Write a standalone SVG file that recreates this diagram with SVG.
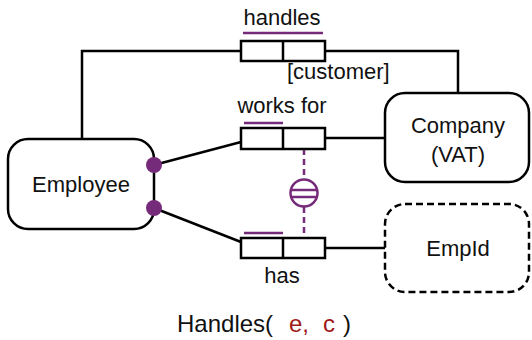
<svg xmlns="http://www.w3.org/2000/svg" width="532" height="340" viewBox="0 0 532 340">
<style>
.ln{fill:none;stroke:#000;stroke-width:2.5}
.box{fill:#fff;stroke:#000;stroke-width:2.5}
.uq{stroke:#762a7a;stroke-width:2.5;fill:none}
.t{font-family:"Liberation Sans",Arial,sans-serif;font-size:22px;fill:#111}
.dot{fill:#762a7a}
</style>
<rect width="532" height="340" fill="#fff"/>
<g id="connectors">
<polyline class="ln" points="82,140 82,51 241,51"/>
<polyline class="ln" points="325,51 458,51 458,93"/>
<line class="ln" x1="154" y1="165" x2="241" y2="142"/>
<line class="ln" x1="154" y1="208" x2="241" y2="242"/>
<line class="ln" x1="325" y1="138" x2="385" y2="138"/>
<line class="ln" x1="325" y1="248" x2="385" y2="248"/>
<line class="uq" x1="304" y1="149" x2="304" y2="179" stroke-dasharray="6,4"/>
<line class="uq" x1="304" y1="207" x2="304" y2="238" stroke-dasharray="6,4"/>
</g>
<g id="employee">
<rect class="box" x="8" y="139" width="146" height="90" rx="20"/>
<text class="t" x="81" y="192" text-anchor="middle">Employee</text>
<circle class="dot" cx="154" cy="165" r="8"/>
<circle class="dot" cx="154" cy="208" r="8"/>
</g>
<g id="company">
<rect class="box" x="385" y="93" width="144" height="89" rx="20"/>
<text class="t" x="458" y="133" text-anchor="middle">Company</text>
<text class="t" x="458" y="162" text-anchor="middle">(VAT)</text>
</g>
<g id="empid">
<rect class="box" x="385" y="204" width="144" height="88" rx="20" stroke-dasharray="7,4"/>
<text class="t" x="458" y="256" text-anchor="middle">EmpId</text>
</g>
<g id="handles">
<rect class="box" x="241" y="41" width="84" height="20"/>
<line class="ln" x1="283" y1="41" x2="283" y2="61"/>
<line class="uq" x1="243" y1="33" x2="323" y2="33"/>
<text class="t" x="282" y="25" text-anchor="middle">handles</text>
<text class="t" x="287" y="79">[customer]</text>
</g>
<g id="worksfor">
<rect class="box" x="241" y="128" width="84" height="21"/>
<line class="ln" x1="283" y1="128" x2="283" y2="149"/>
<line class="uq" x1="244" y1="123" x2="283" y2="123"/>
<text class="t" x="282" y="113" text-anchor="middle">works for</text>
</g>
<g id="has">
<rect class="box" x="241" y="238" width="84" height="20"/>
<line class="ln" x1="283" y1="238" x2="283" y2="258"/>
<line class="uq" x1="244" y1="233" x2="283" y2="233"/>
<text class="t" x="282" y="283" text-anchor="middle">has</text>
</g>
<g id="equality">
<circle cx="304" cy="193" r="13.5" fill="#fff" stroke="#762a7a" stroke-width="2.5"/>
<line class="uq" x1="291" y1="190" x2="317" y2="190"/>
<line class="uq" x1="291" y1="197" x2="317" y2="197"/>
</g>
<text font-family="Liberation Sans,Arial,sans-serif" font-size="24" fill="#111" y="332"><tspan x="177">Handles(</tspan><tspan x="289" fill="#a01818">e,</tspan><tspan x="323" fill="#a01818">c</tspan><tspan x="343">)</tspan></text>
</svg>
